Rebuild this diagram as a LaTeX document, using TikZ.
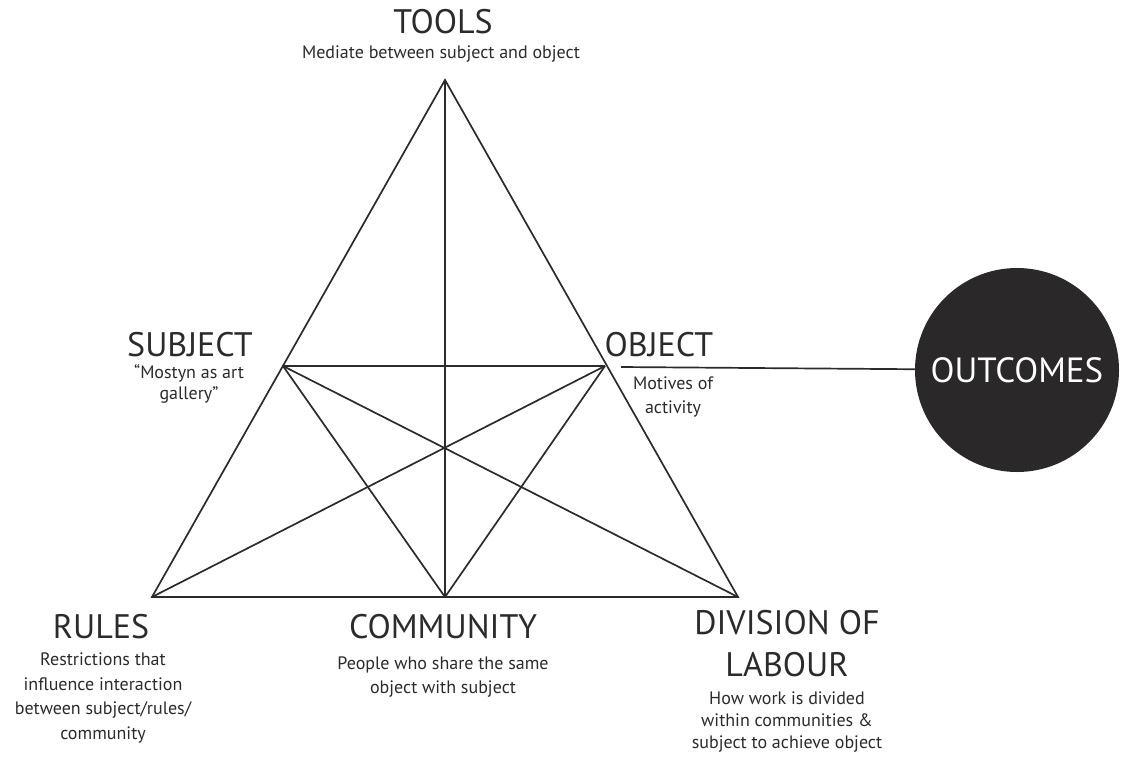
\documentclass[tikz,border=0pt]{standalone}
\usepackage{fontspec}
\setmainfont{PT Sans}
\definecolor{ink}{HTML}{2B2B2B}
\definecolor{disc}{HTML}{2A2828}
\begin{document}
\begin{tikzpicture}[x=1pt,y=-1pt]
  \tikzset{
    edge/.style={draw=ink, line width=1.7pt, line join=miter},
    head/.style={font=\fontsize{34}{40}\selectfont, text=ink, align=center, inner sep=0pt},
    note/.style={font=\fontsize{18}{24.5}\selectfont, text=ink, align=center, inner sep=0pt}
  }
  \useasboundingbox (0,0) rectangle (1121,756);

  % corners of the triangle
  \coordinate (tools) at (445,80);
  \coordinate (rules) at (152,597);
  \coordinate (division) at (738,597);
  \coordinate (community) at (445,597);
  \coordinate (subject) at (283,366);
  \coordinate (object) at (605,366);
  \coordinate (outstart) at (621,367);

  \draw[edge] (rules) -- (tools) -- (division) -- cycle;
  \foreach \a/\b in {tools/community, subject/object, subject/community,
                     subject/division, object/community, object/rules}
    \draw[edge] (\a) -- (\b);

  \node[circle, fill=disc, minimum size=204pt, inner sep=0pt,
        font=\fontsize{35}{35}\selectfont, text=white] (outcomes) at (1017,370) {OUTCOMES};
  \draw[edge] (outstart) -- (outcomes);

  % labels
  \node[head] (toolsname) at (443,22) {TOOLS};
  \node[note] (toolsnote) at (441,54) {Mediate between subject and object};
  \node[head] (subjectname) at (190,345) {SUBJECT};
  \node[note, font=\fontsize{18}{21}\selectfont] (subjectnote) at (189,384) {“Mostyn as art\\gallery”};
  \node[head] (objectname) at (659,345) {OBJECT};
  \node[note] (objectnote) at (673,397) {Motives of\\activity};
  \node[head] (rulesname) at (101,627) {RULES};
  \node[note] (rulesnote) at (103,698) {Restrictions that\\influence interaction\\between subject/rules/\\community};
  \node[head] (communityname) at (443,627) {COMMUNITY};
  \node[note] (communitynote) at (443,677) {People who share the same\\object with subject};
  \node[head, font=\fontsize{34}{42}\selectfont] (divisionname) at (787,644) {DIVISION OF\\LABOUR};
  \node[note, font=\fontsize{18}{22}\selectfont] (divisionnote) at (787,722) {How work is divided\\within communities \&\\subject to achieve object};
\end{tikzpicture}
\end{document}
